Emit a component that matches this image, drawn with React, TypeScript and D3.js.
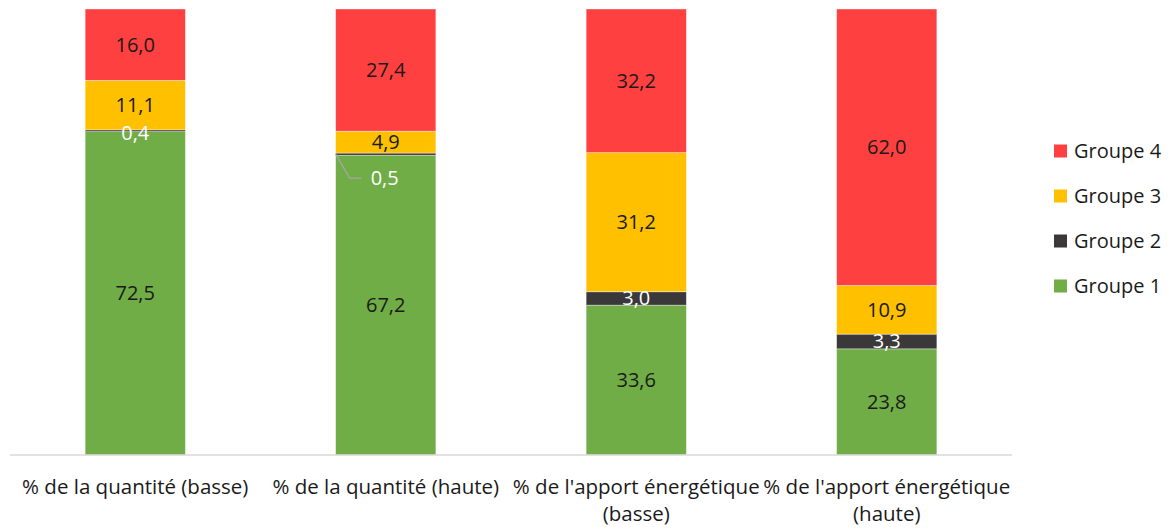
import React, { useEffect, useRef } from 'react';
import * as d3 from 'd3';

// categories (x axis)
const categories = [
  '% de la quantité (basse)',
  '% de la quantité (haute)',
  "% de l'apport énergétique (basse)",
  "% de l'apport énergétique (haute)",
];

// series, bottom to top
const groupe1 = [72.5, 67.2, 33.6, 23.8];
const groupe2 = [0.4, 0.5, 3.0, 3.3];
const groupe3 = [11.1, 4.9, 31.2, 10.9];
const groupe4 = [16.0, 27.4, 32.2, 62.0];

const seriesNames = ['Groupe 1', 'Groupe 2', 'Groupe 3', 'Groupe 4'];
const seriesColors = ['#70AD47', '#3A3838', '#FFC000', '#FF4040'];
const labelColors = ['#1a1a1a', '#ffffff', '#1a1a1a', '#1a1a1a'];

const W = 1172;
const H = 531;
const FONT = "'Open Sans', sans-serif";

const fmt = (v: number) => v.toFixed(1).replace('.', ',');

const App = () => {
  const axisRef = useRef<SVGGElement>(null);

  const x = d3
    .scaleBand<string>()
    .domain(categories)
    .range([10, 1012])
    .paddingInner(0.6)
    .paddingOuter(0.3);

  const y = d3.scaleLinear().domain([0, 100]).range([455, 9]);

  const rows = categories.map((c, i) => ({
    cat: c,
    'Groupe 1': groupe1[i],
    'Groupe 2': groupe2[i],
    'Groupe 3': groupe3[i],
    'Groupe 4': groupe4[i],
  }));
  const stacked = d3.stack<any>().keys(seriesNames)(rows);

  // category labels, wrapped to the band step
  useEffect(() => {
    const g = d3.select(axisRef.current);
    g.selectAll('*').remove();
    const step = x.step();
    categories.forEach((c) => {
      const cx = (x(c) as number) + x.bandwidth() / 2;
      const t = g
        .append('text')
        .attr('x', cx)
        .attr('y', 494)
        .attr('text-anchor', 'middle')
        .attr('font-family', FONT)
        .attr('font-size', 20.5)
        .attr('fill', '#1a1a1a');
      const words = c.split(' ');
      let line: string[] = [];
      let ts = t.append('tspan').attr('x', cx).attr('dy', 0);
      words.forEach((w) => {
        line.push(w);
        ts.text(line.join(' '));
        if ((ts.node() as SVGTSpanElement).getComputedTextLength() > step && line.length > 1) {
          line.pop();
          ts.text(line.join(' '));
          line = [w];
          ts = t.append('tspan').attr('x', cx).attr('dy', 27).text(w);
        }
      });
    });
  }, []);

  return (
    <svg width={W} height={H} style={{ position: 'absolute', left: 0, top: 0, background: '#fff' }}>
      {stacked.map((s, si) => (
        <g key={s.key}>
          {s.map((d, i) => (
            <rect
              key={i}
              x={x(categories[i])}
              width={x.bandwidth()}
              y={y(d[1])}
              height={y(d[0]) - y(d[1])}
              fill={seriesColors[si]}
              stroke="#ffffff"
              strokeOpacity={0.5}
              strokeWidth={0.75}
            />
          ))}
        </g>
      ))}

      <line x1={10} x2={1012} y1={y(0)} y2={y(0)} stroke="#D9D9D9" strokeWidth={1.5} />

      {stacked.map((s, si) => (
        <g key={'l' + s.key}>
          {s.map((d, i) => {
            const v = d[1] - d[0];
            const cx = (x(categories[i]) as number) + x.bandwidth() / 2;
            const cy = y((d[0] + d[1]) / 2);
            // Groupe 2 of the second bar is too thin: label moved out with a leader line
            if (si === 1 && i === 1) {
              const x0 = x(categories[i]) as number;
              return (
                <g key={i}>
                  <polyline
                    points={`${x0},${cy} ${x0 + 14},${cy + 24} ${x0 + 26},${cy + 24}`}
                    fill="none"
                    stroke="#A6A6A6"
                    strokeWidth={1.2}
                  />
                  <text
                    x={x0 + 35}
                    y={cy + 24}
                    dy="0.35em"
                    fontFamily={FONT}
                    fontSize={20}
                    fill="#ffffff"
                  >
                    {fmt(v)}
                  </text>
                </g>
              );
            }
            return (
              <text
                key={i}
                x={cx}
                y={cy + (si === 1 && v < 1 ? 2 : 0)}
                dy="0.35em"
                textAnchor="middle"
                fontFamily={FONT}
                fontSize={20}
                fill={labelColors[si]}
              >
                {fmt(Math.round(v * 10) / 10)}
              </text>
            );
          })}
        </g>
      ))}

      <g ref={axisRef} />

      {seriesNames
        .slice()
        .reverse()
        .map((n, k) => {
          const si = seriesNames.indexOf(n);
          const ly = 151 + k * 45;
          return (
            <g key={n}>
              <rect x={1054} y={ly - 6.5} width={13} height={13} fill={seriesColors[si]} />
              <text x={1074} y={ly} dy="0.35em" fontFamily={FONT} fontSize={20} fill="#1a1a1a">
                {n}
              </text>
            </g>
          );
        })}
    </svg>
  );
};

export default App;
